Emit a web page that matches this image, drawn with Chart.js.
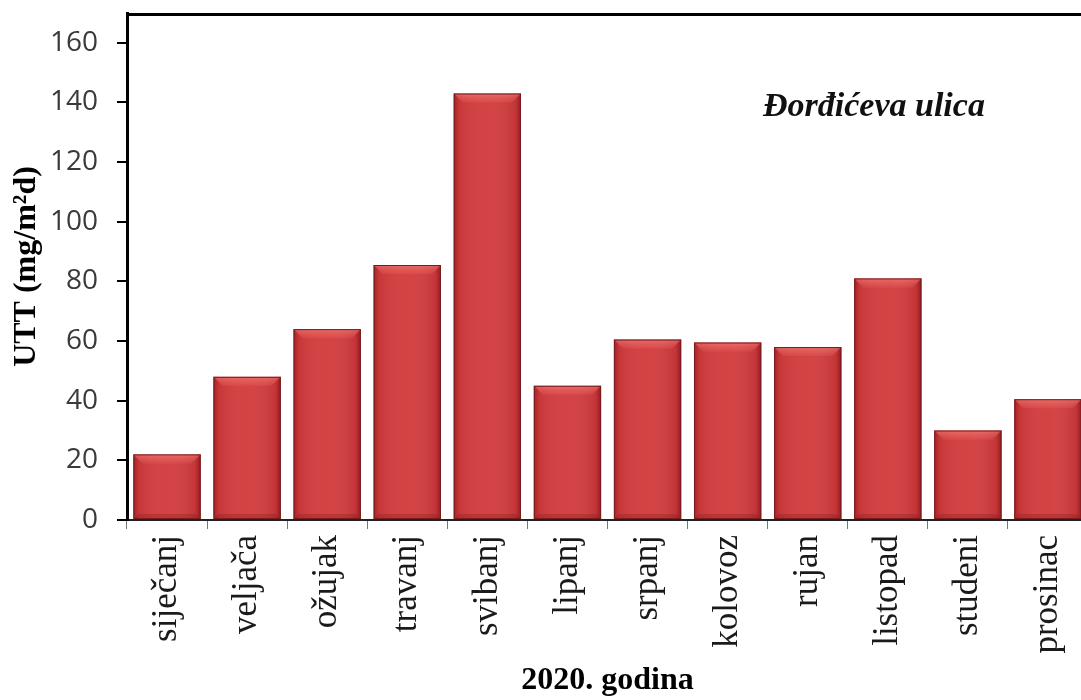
<!DOCTYPE html>
<html>
<head>
<meta charset="utf-8">
<script src="https://cdn.jsdelivr.net/npm/chart.js@4.4.1/dist/chart.umd.min.js"></script>
<style>
html, body { margin: 0; padding: 0; background: #fff; overflow: hidden; }
</style>
</head>
<body>
<canvas id="graf" width="1088" height="700"></canvas>
<script>
// podaci
var mjeseci = ['siječanj', 'veljača', 'ožujak', 'travanj', 'svibanj', 'lipanj', 'srpanj', 'kolovoz', 'rujan', 'listopad', 'studeni', 'prosinac'];
var utt = [22, 48, 64, 85.5, 143, 45, 60.5, 59.5, 58, 81, 30, 40.5];
var yTicks = [0, 20, 40, 60, 80, 100, 120, 140, 160];
var yMax = 170;
var naslovY = 'UTT (mg/m²d)';
var naslovX = '2020. godina';
var oznaka = 'Đorđićeva ulica';

var serif = '"Liberation Serif", "Times New Roman", serif';

// sjencanje stupaca, okvir i natpis
var ukras = {
    id: 'ukras',
    afterDatasetsDraw: function(chart) {
        var ctx = chart.ctx;
        var meta = chart.getDatasetMeta(0);
        ctx.save();
        meta.data.forEach(function(bar) {
            var p = bar.getProps(['x', 'y', 'width', 'base'], true);
            var l = p.x - p.width / 2, r = p.x + p.width / 2, t = p.y, b = p.base;

            var g = ctx.createLinearGradient(l, 0, r, 0);
            g.addColorStop(0, 'rgba(120,15,20,0.55)');
            g.addColorStop(0.08, 'rgba(120,15,20,0.12)');
            g.addColorStop(0.5, 'rgba(255,255,255,0.03)');
            g.addColorStop(0.92, 'rgba(110,10,15,0.15)');
            g.addColorStop(1, 'rgba(100,10,15,0.6)');
            ctx.fillStyle = g;
            ctx.fillRect(l, t, r - l, b - t);

            var bv = Math.min(9, (b - t) / 3);
            var gt = ctx.createLinearGradient(0, t, 0, t + bv);
            gt.addColorStop(0, 'rgba(255,160,150,0.45)');
            gt.addColorStop(1, 'rgba(255,120,110,0.15)');
            ctx.beginPath();
            ctx.moveTo(l, t);
            ctx.lineTo(r, t);
            ctx.lineTo(r - bv, t + bv);
            ctx.lineTo(l + bv, t + bv);
            ctx.closePath();
            ctx.fillStyle = gt;
            ctx.fill();

            ctx.beginPath();
            ctx.moveTo(l, b);
            ctx.lineTo(r, b);
            ctx.lineTo(r - 5, b - 5);
            ctx.lineTo(l + 5, b - 5);
            ctx.closePath();
            ctx.fillStyle = 'rgba(110,15,20,0.25)';
            ctx.fill();

            ctx.strokeStyle = '#7a1b1e';
            ctx.lineWidth = 1;
            ctx.strokeRect(l + 0.5, t + 0.5, r - l - 1, b - t - 1);
        });
        ctx.restore();
    },
    afterDraw: function(chart) {
        var ctx = chart.ctx, a = chart.chartArea;
        ctx.save();
        ctx.strokeStyle = '#000';
        ctx.lineWidth = 3;
        ctx.beginPath();
        ctx.moveTo(a.left, a.top + 1.5);
        ctx.lineTo(a.right, a.top + 1.5);
        ctx.lineTo(a.right, a.bottom);
        ctx.stroke();

        ctx.fillStyle = '#111';
        ctx.font = 'italic bold 34px ' + serif;
        ctx.textAlign = 'left';
        ctx.textBaseline = 'alphabetic';
        ctx.fillText(oznaka, 763, 116);
        ctx.restore();
    }
};

var graf = new Chart(document.getElementById('graf').getContext('2d'), {
    type: 'bar',
    data: {
        labels: mjeseci,
        datasets: [{
            data: utt,
            backgroundColor: '#d23c3e',
            borderWidth: 0,
            barPercentage: 0.84,
            categoryPercentage: 1
        }]
    },
    options: {
        responsive: false,
        animation: false,
        layout: { padding: { top: 13, right: 0, left: 0, bottom: 0 } },
        plugins: {
            legend: { display: false },
            tooltip: { enabled: false }
        },
        scales: {
            x: {
                offset: true,
                grid: { display: true, drawOnChartArea: false, offset: true, tickLength: 9, color: '#777', lineWidth: 1 },
                border: { color: '#222', width: 2 },
                ticks: {
                    minRotation: 90,
                    maxRotation: 90,
                    padding: 6,
                    color: '#1a1a1a',
                    font: { family: serif, size: 35 }
                },
                title: {
                    display: true,
                    text: naslovX,
                    color: '#000',
                    padding: 0,
                    font: { family: serif, size: 32, weight: 'bold' }
                },
                afterFit: function(s) {
                    s.height = 180;
                    s.paddingLeft = 0;
                    s.paddingRight = 0;
                }
            },
            y: {
                min: 0,
                max: yMax,
                afterBuildTicks: function(s) {
                    s.ticks = yTicks.map(function(v) { return { value: v }; });
                },
                grid: { drawOnChartArea: false, tickLength: 10, color: '#000', lineWidth: 2 },
                border: { color: '#000', width: 3 },
                ticks: {
                    padding: 19,
                    color: '#3a3a3a',
                    font: { family: '"Open Sans", sans-serif', size: 28 }
                },
                title: {
                    display: true,
                    text: naslovY,
                    color: '#000',
                    padding: { top: 8, bottom: 0 },
                    font: { family: serif, size: 32, weight: 'bold' }
                },
                afterFit: function(s) {
                    s.width = 127;
                    s.paddingTop = 0;
                    s.paddingBottom = 0;
                }
            }
        }
    },
    plugins: [ukras]
});
</script>
</body>
</html>
